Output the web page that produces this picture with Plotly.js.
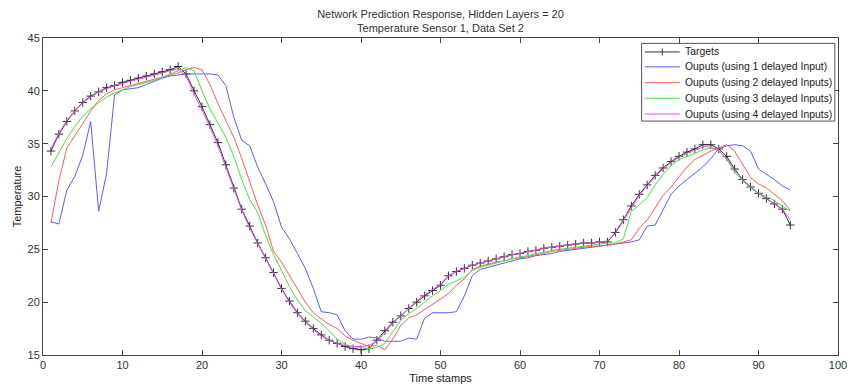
<!DOCTYPE html>
<html>
<head>
<meta charset="utf-8">
<script src="https://cdn.plot.ly/plotly-3.0.1.min.js"></script>
<style>
  html, body { margin: 0; padding: 0; background: #fff; }
  #chart { width: 850px; height: 387px; }
</style>
</head>
<body>
<div id="chart"></div>
<script>
// ---- data ----
var timeStamps = [];
for (var i = 1; i <= 94; i++) timeStamps.push(i);

var targets = [34.3,35.9,37.1,38.1,38.9,39.5,39.9,40.3,40.5,40.8,
  41.0,41.2,41.4,41.6,41.8,42.0,42.3,41.6,40.0,38.5,
  36.8,35.1,33.0,30.8,28.8,27.2,25.6,24.2,22.8,21.3,
  20.1,19.0,18.2,17.5,16.9,16.4,16.1,15.8,15.6,15.5,
  15.6,16.4,17.3,18.1,18.7,19.4,20.0,20.6,21.1,21.6,
  22.5,22.9,23.2,23.5,23.7,23.9,24.1,24.3,24.5,24.6,
  24.8,24.9,25.1,25.2,25.3,25.4,25.5,25.6,25.6,25.7,
  25.7,26.6,27.8,29.1,30.2,31.1,32.0,32.7,33.3,33.8,
  34.2,34.5,34.9,34.9,34.5,33.8,32.6,31.6,30.9,30.3,
  29.8,29.3,28.8,27.3];

var out1 = [27.6,27.4,30.6,31.9,33.9,37.1,28.6,32.2,39.6,40.1,
  40.2,40.3,40.6,40.9,41.2,41.4,41.5,41.6,41.6,41.6,
  41.6,41.5,40.5,37.5,35.3,34.8,32.8,31.2,29.5,27.1,
  26.0,24.6,23.2,21.3,19.1,19.0,18.8,17.3,16.5,16.5,
  16.7,16.6,16.3,16.3,16.3,16.6,16.5,18.5,19.0,19.0,
  19.0,19.1,20.6,22.5,23.1,23.3,23.5,23.7,23.9,24.1,
  24.2,24.4,24.5,24.6,24.8,24.9,25.0,25.1,25.2,25.3,
  25.4,25.5,25.6,25.7,25.9,27.2,27.3,28.8,30.2,31.0,
  31.6,32.2,32.8,33.6,34.5,34.8,34.9,34.8,34.3,32.6,
  32.1,31.6,31.0,30.6];

var out2 = [27.5,31.5,34.6,35.7,36.9,38.1,39.1,39.7,40.1,40.3,
  40.5,40.7,40.9,41.1,41.3,41.5,41.7,42.0,42.2,42.0,
  40.6,38.8,37.2,35.6,33.6,31.3,29.2,27.3,24.8,23.8,
  22.5,21.2,20.0,19.0,18.4,17.9,17.5,16.8,16.4,16.1,
  15.8,15.9,15.5,16.5,17.8,18.5,18.8,19.3,19.8,20.3,
  20.8,21.6,22.2,23.1,23.4,23.6,23.8,23.9,24.1,24.2,
  24.3,24.5,24.6,24.8,24.9,25.0,25.1,25.2,25.3,25.3,
  25.4,25.5,25.7,25.9,27.0,27.8,28.9,30.1,30.9,31.9,
  32.8,33.5,33.9,34.3,34.6,34.9,34.3,33.0,31.8,31.2,
  30.8,30.2,29.6,28.7];

var out3 = [32.8,34.2,35.5,36.6,37.6,38.3,38.9,39.4,39.8,40.1,
  40.4,40.6,40.8,41.0,41.3,41.6,41.9,42.2,41.9,40.0,
  38.3,36.9,35.6,33.8,31.6,29.7,28.5,26.3,24.5,23.0,
  21.5,20.2,19.2,18.6,18.0,17.3,16.5,16.0,15.8,15.7,
  15.6,15.7,16.1,17.2,18.3,18.9,19.4,20.0,20.6,21.1,
  21.7,22.0,22.4,23.0,23.3,23.5,23.7,23.9,24.1,24.3,
  24.4,24.6,24.7,24.9,25.0,25.1,25.2,25.3,25.4,25.5,
  25.6,25.6,26.0,28.6,29.2,29.9,31.1,32.1,32.9,33.5,
  33.8,34.1,34.4,34.6,34.4,33.5,32.3,31.5,30.8,30.3,
  30.0,29.6,29.1,28.6];

var out4 = [34.5,36.0,37.2,38.1,38.9,39.4,39.9,40.2,40.5,40.7,
  40.9,41.1,41.3,41.5,41.7,41.9,42.1,41.4,39.7,38.2,
  36.6,34.8,32.8,30.6,28.7,27.0,25.5,24.1,22.7,21.2,
  20.0,18.9,18.1,17.4,16.8,16.4,16.1,15.9,15.8,15.8,
  15.9,16.3,17.1,18.0,18.7,19.4,20.1,20.7,21.2,21.7,
  22.5,22.9,23.2,23.5,23.7,23.9,24.1,24.3,24.5,24.6,
  24.8,24.9,25.1,25.2,25.3,25.4,25.5,25.6,25.6,25.7,
  25.8,26.5,27.7,29.0,30.1,31.0,31.9,32.6,33.2,33.7,
  34.1,34.4,34.7,34.7,34.3,33.6,32.5,31.6,30.9,30.3,
  29.8,29.3,28.8,27.8];

var seriesNames = ['Targets',
  'Ouputs (using 1 delayed Input)',
  'Ouputs (using 2 delayed Inputs)',
  'Ouputs (using 3 delayed Inputs)',
  'Ouputs (using 4 delayed Inputs)'];
var seriesColors = ['#333333', '#5c5cff', '#ff5c5c', '#40e840', '#f050f0'];

var xTicks = [0,10,20,30,40,50,60,70,80,90,100];
var yTicks = [15,20,25,30,35,40,45];

// ---- traces ----
var fontFam = 'Liberation Sans Narrow, Liberation Sans, Arial, sans-serif';
var allY = [targets, out1, out2, out3, out4];
var traces = allY.map(function (ys, k) {
  var t = {
    x: timeStamps, y: ys, type: 'scatter',
    mode: k === 0 ? 'lines+markers' : 'lines',
    name: seriesNames[k],
    line: { color: seriesColors[k], width: 1 },
    showlegend: false,
    hoverinfo: 'skip'
  };
  if (k === 0) {
    t.marker = { symbol: 'cross-thin', size: 6, line: { color: '#333', width: 1 }, color: '#333' };
  }
  return t;
});

// ---- custom legend (MATLAB-style box) ----
var legX0 = 0.753, legX1 = 0.996, legYTop = 0.983, legYBot = 0.738;
var itemY = [0.956, 0.909, 0.859, 0.810, 0.760];
var lineX0 = 0.757, lineX1 = 0.801, textX = 0.805;
var shapes = [{
  type: 'rect', xref: 'paper', yref: 'paper',
  x0: legX0, x1: legX1, y0: legYBot, y1: legYTop,
  line: { color: '#555', width: 1 }, fillcolor: '#fff', layer: 'above'
}];
var annotations = [];
seriesNames.forEach(function (nm, k) {
  shapes.push({
    type: 'line', xref: 'paper', yref: 'paper',
    x0: lineX0, x1: lineX1, y0: itemY[k], y1: itemY[k],
    line: { color: seriesColors[k], width: 1 }, layer: 'above'
  });
  if (k === 0) {
    var cx = (lineX0 + lineX1) / 2;
    shapes.push({
      type: 'line', xref: 'paper', yref: 'paper',
      x0: cx, x1: cx, y0: itemY[k] - 0.011, y1: itemY[k] + 0.011,
      line: { color: '#333', width: 1 }, layer: 'above'
    });
  }
  annotations.push({
    xref: 'paper', yref: 'paper', x: textX, y: itemY[k],
    xanchor: 'left', yanchor: 'middle', showarrow: false,
    text: nm, font: { family: fontFam, size: 10.4, color: '#222' }
  });
});

var layout = {
  width: 850, height: 387,
  margin: { l: 43, r: 12, t: 38, b: 32, pad: 0 },
  paper_bgcolor: '#fff', plot_bgcolor: '#fff',
  showlegend: false,
  title: {
    text: 'Network Prediction Response, Hidden Layers = 20<br>Temperature Sensor 1, Data Set 2',
    font: { family: fontFam, size: 11, color: '#333' },
    x: 0.5, xanchor: 'center', xref: 'paper',
    y: 0.953, yanchor: 'middle', yref: 'container'
  },
  xaxis: {
    range: [0, 100], tickvals: xTicks, ticktext: xTicks.map(String),
    ticks: 'inside', ticklen: 5, tickcolor: '#444', mirror: 'ticks',
    showline: true, linecolor: '#444', linewidth: 1,
    showgrid: false, zeroline: false,
    tickfont: { family: fontFam, size: 11, color: '#333' },
    title: { text: 'Time stamps', font: { family: fontFam, size: 11, color: '#222' }, standoff: 4 }
  },
  yaxis: {
    range: [15, 45], tickvals: yTicks, ticktext: yTicks.map(String),
    ticks: 'inside', ticklen: 5, tickcolor: '#444', mirror: 'ticks',
    showline: true, linecolor: '#444', linewidth: 1,
    showgrid: false, zeroline: false,
    tickfont: { family: fontFam, size: 11, color: '#333' },
    title: { text: 'Temperature', font: { family: fontFam, size: 11, color: '#222' }, standoff: 3 }
  },
  shapes: shapes,
  annotations: annotations
};

Plotly.newPlot('chart', traces, layout, { staticPlot: true, displayModeBar: false });
</script>
</body>
</html>
